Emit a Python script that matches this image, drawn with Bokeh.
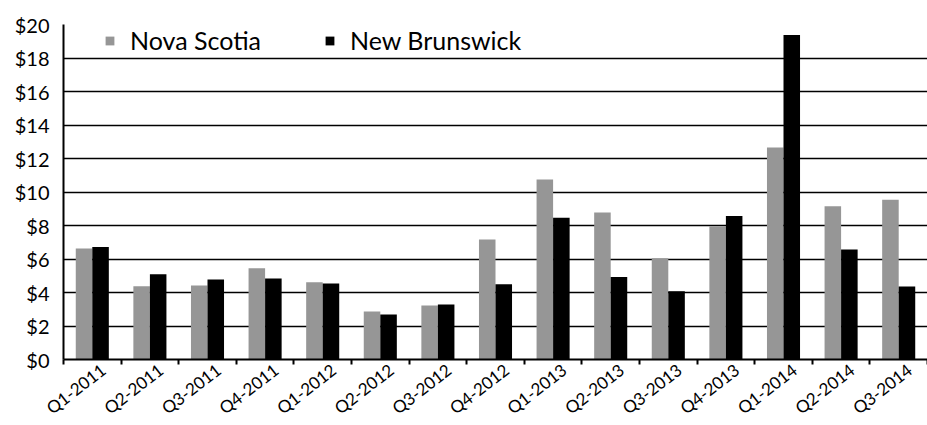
from bokeh.plotting import figure
from bokeh.models import (ColumnDataSource, FactorRange, Range1d, LinearAxis,
                          FixedTicker, PrintfTickFormatter, Legend, LegendItem)
from bokeh.transform import dodge
from bokeh.embed import file_html
from bokeh.resources import INLINE

quarters = ["Q1-2011", "Q2-2011", "Q3-2011", "Q4-2011", "Q1-2012", "Q2-2012",
            "Q3-2012", "Q4-2012", "Q1-2013", "Q2-2013", "Q3-2013", "Q4-2013",
            "Q1-2014", "Q2-2014", "Q3-2014"]
nova_scotia = [6.62, 4.38, 4.42, 5.45, 4.61, 2.87, 3.22, 7.17, 10.74, 8.78,
               6.04, 7.96, 12.65, 9.15, 9.54]
new_brunswick = [6.71, 5.09, 4.77, 4.83, 4.53, 2.69, 3.28, 4.49, 8.46, 4.93,
                 4.08, 8.56, 19.38, 6.56, 4.36]
y_ticks = list(range(0, 21, 2))

FONT = "Lato"

src = ColumnDataSource(dict(q=quarters, ns=nova_scotia, nb=new_brunswick))

p = figure(x_range=FactorRange(*quarters, range_padding=0, factor_padding=0),
           y_range=Range1d(0, 20),
           frame_width=864, frame_height=335,
           output_backend="svg", toolbar_location=None, x_axis_location=None,
           min_border_left=63, min_border_right=0, min_border_top=24,
           min_border_bottom=66)
p.outline_line_color = None
p.background_fill_color = "white"

bw = 0.287
r1 = p.vbar(x=dodge("q", -bw / 2, range=p.x_range), top="ns", width=bw,
            source=src, fill_color="#969696", line_color=None)
r2 = p.vbar(x=dodge("q", bw / 2, range=p.x_range), top="nb", width=bw,
            source=src, fill_color="#000000", line_color=None)

p.xgrid.visible = False
p.ygrid.ticker = FixedTicker(ticks=y_ticks)
p.ygrid.grid_line_color = "#000000"
p.ygrid.grid_line_width = 1.7

ya = p.yaxis[0]
ya.ticker = FixedTicker(ticks=y_ticks)
ya.formatter = PrintfTickFormatter(format="$%d")
ya.axis_line_color = "#000000"
ya.axis_line_width = 2
ya.major_tick_out = 0
ya.major_tick_in = 0
ya.minor_tick_line_color = None
ya.major_label_standoff = 14
ya.major_label_text_font = FONT
ya.major_label_text_font_size = "20px"
ya.major_label_text_color = "#000000"

# synthetic coordinates of the factor range: factor i spans [i, i+1]
n = len(quarters)
bounds = list(range(n + 1))
label_pos = [i + 0.5 + 0.19 for i in range(n)]
xa = LinearAxis(ticker=FixedTicker(ticks=label_pos, minor_ticks=bounds),
                major_label_overrides={pos: q for pos, q in zip(label_pos, quarters)},
                major_label_orientation=0.66)
xa.major_tick_line_color = None
xa.major_tick_out = 5
xa.major_tick_in = 0
xa.minor_tick_out = 5
xa.minor_tick_in = 0
xa.minor_tick_line_width = 2
xa.minor_tick_line_color = "#000000"
xa.axis_line_width = 2
xa.axis_line_color = "#000000"
xa.major_label_standoff = 3
xa.major_label_text_font = FONT
xa.major_label_text_font_size = "17px"
xa.major_label_text_color = "#000000"
p.add_layout(xa, "below")

legend = Legend(items=[LegendItem(label="Nova Scotia", renderers=[r1]),
                       LegendItem(label="New Brunswick", renderers=[r2])],
                orientation="horizontal", location=(41, 304),
                border_line_color=None, background_fill_alpha=0,
                padding=0, margin=0, spacing=63, label_standoff=15,
                glyph_width=11, glyph_height=11,
                label_text_font=FONT, label_text_font_size="25px",
                label_text_color="#000000")
p.add_layout(legend)

open("out.html", "w").write(file_html(p, INLINE))
